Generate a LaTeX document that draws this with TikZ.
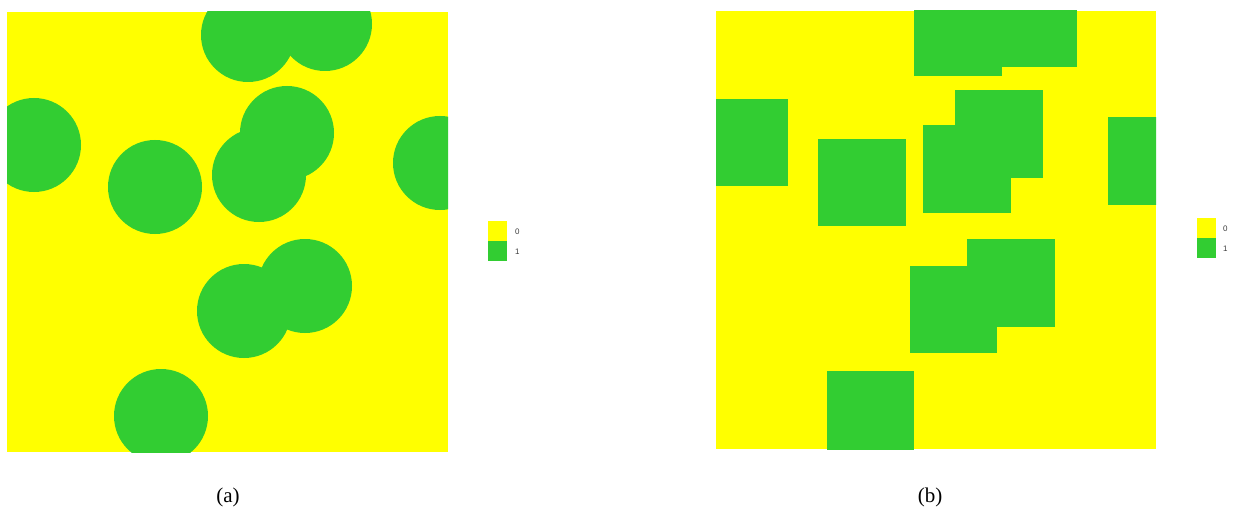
\documentclass[tikz,border=0pt]{standalone}
\usepackage{fontspec}
\setmainfont{Liberation Serif}
\newfontfamily\legfont{Liberation Sans}
\definecolor{yel}{RGB}{255,255,0}
\definecolor{grn}{RGB}{50,205,50}
\definecolor{legtxt}{RGB}{60,60,60}
\begin{document}
\begin{tikzpicture}[x=1pt,y=-1pt,
  blob/.style={fill=grn,draw=none},
  bg/.style={fill=yel,draw=none},
  legtext/.style={font=\legfont\fontsize{8}{9}\selectfont,text=legtxt,inner sep=0pt,anchor=west},
  caption/.style={font=\fontsize{21}{24}\selectfont,inner sep=0pt}]
\useasboundingbox[fill=white] (0,0) rectangle (1237,516);
% ---- panel (a)
\begin{scope}
\clip (7,12) rectangle (448,452);
\fill[bg] (7,12) rectangle (448,452);
\foreach \cx/\cy in {248/35,325/24,34/145,155/187,287/133,259/175,440/163,305/286,244/311,161/416}
  \fill[blob] (\cx,\cy) circle (47);
\end{scope}
% legend (a)
\fill[yel] (488,221) rectangle (507,241);
\fill[grn] (488,241) rectangle (507,261);
\node[legtext] (la0) at (515,232) {0};
\node[legtext] (la1) at (515,252) {1};
% ---- panel (b)
\begin{scope}
\clip (716,11) rectangle (1156,449);
\fill[bg] (716,11) rectangle (1156,449);
\foreach \x/\y in {914.3/-11,989.3/-20,700/98.7,818.3/138.7,955/90.3,923.3/125,1108/117,967.3/239.3,909.7/265.7,826.7/370.7}
  \fill[blob] (\x,\y) rectangle ++(87.5,87.5);
\end{scope}
% legend (b)
\fill[yel] (1197,218) rectangle (1216,238);
\fill[grn] (1197,238) rectangle (1216,258);
\node[legtext] (lb0) at (1223,229) {0};
\node[legtext] (lb1) at (1223,249) {1};
% captions
\node[caption] (capa) at (228,497) {(a)};
\node[caption] (capb) at (930,497) {(b)};
\end{tikzpicture}
\end{document}
